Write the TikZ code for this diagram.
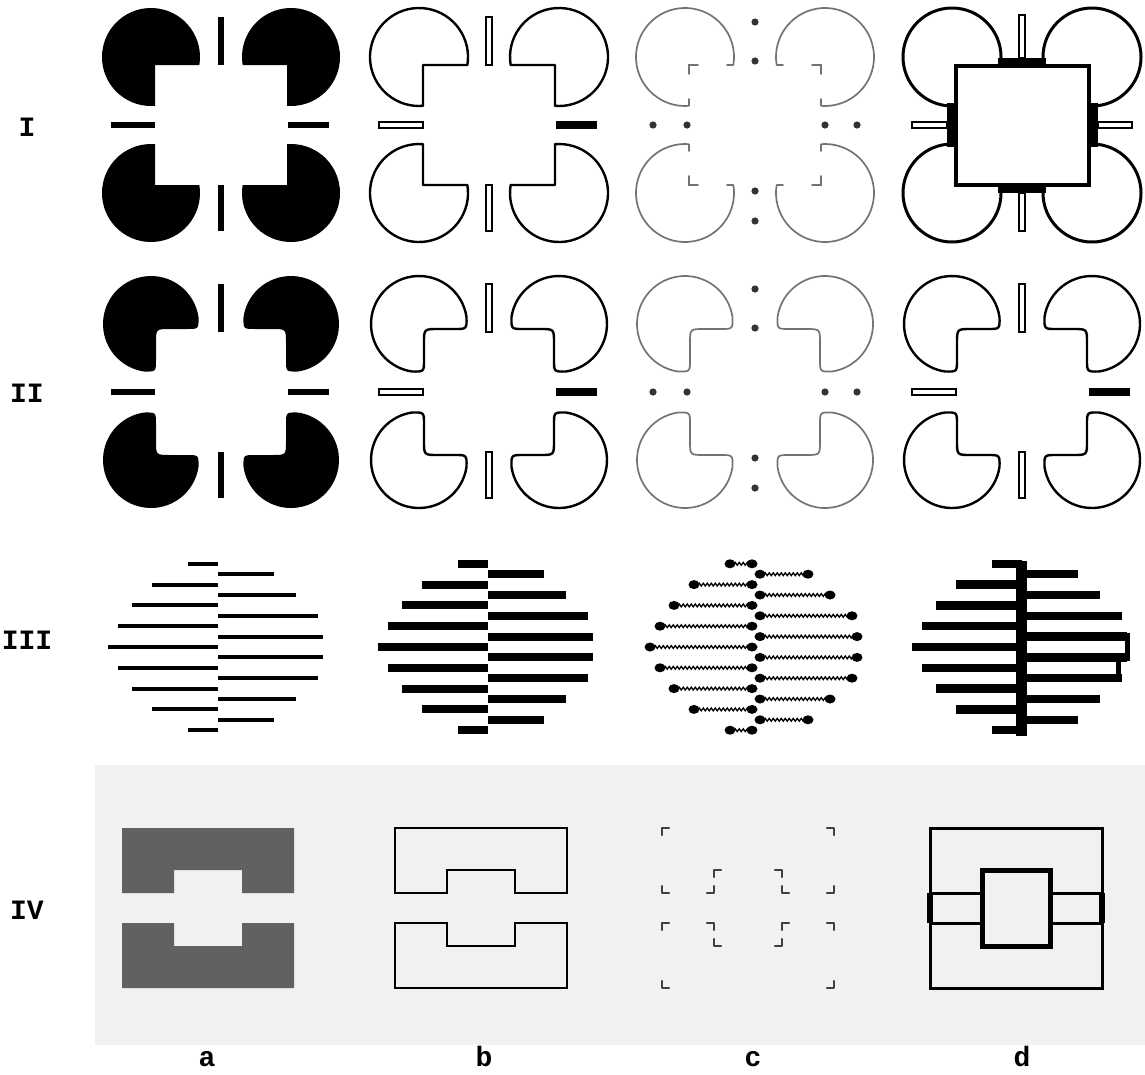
\documentclass[tikz,border=0pt]{standalone}
\usepackage{fontspec}
\newfontfamily\labfont{Liberation Mono}
\usetikzlibrary{decorations.pathmorphing}
% pacman (row I), local: circle centre (0,0), notch corner (4,8), missing quadrant towards +x,+y (y down)
\newcommand\pacIpath{(4,8) -- (48.34,8) arc[start angle=9.40,end angle=-274.68,radius=49] -- cycle}
\newcommand\pacIarc{(48.34,8) arc[start angle=9.40,end angle=-274.68,radius=49] (4,17) -- (4,8) -- (13,8) (48.34,8) -- (42,8) (4,48.84) -- (4,42)}
% bean (row II)
\newcommand\beanpath{(19,5) -- (35.74,5) .. controls (47.74,5) .. (47.50,-6.93) arc[start angle=-8.3,end angle=-261.68,radius=48] .. controls (5,47.74) .. (5,35.74) -- (5,19) .. controls (5,5) .. (19,5) -- cycle}
% row IV shapes
\newcommand\topshape{(-86,-80) -- (86,-80) -- (86,-15) -- (34,-15) -- (34,-38) -- (-34,-38) -- (-34,-15) -- (-86,-15) -- cycle}
\newcommand\botshape{(-86,80) -- (86,80) -- (86,15) -- (34,15) -- (34,38) -- (-34,38) -- (-34,15) -- (-86,15) -- cycle}
\newcommand\fourshapes[4]{%
  \foreach \sx/\sy in {1/1,-1/1,1/-1,-1/-1}{%
    \begin{scope}[shift={({#1-(\sx)*70},{#2-(\sy)*68})},xscale=\sx,yscale=\sy]
      \path[#4] #3;
    \end{scope}}}
% bars
\newcommand\barsfilled[2]{%
  \fill (#1-3,#2-108) rectangle (#1+3,#2-60);
  \fill (#1-3,#2+60) rectangle (#1+3,#2+106);
  \fill (#1-110,#2-3) rectangle (#1-66,#2+3);
  \fill (#1+67,#2-3) rectangle (#1+108,#2+3);}
\newcommand\barshollow[2]{%
  \draw[hollowbar] (#1-3,#2-108) rectangle (#1+3,#2-60);
  \draw[hollowbar] (#1-3,#2+60) rectangle (#1+3,#2+106);
  \draw[hollowbar] (#1-110,#2-3) rectangle (#1-66,#2+3);
  \fill (#1+67,#2-4) rectangle (#1+108,#2+4);}
\newcommand\barsdots[2]{%
  \foreach \p in {(#1,#2-103),(#1,#2-64),(#1,#2+66),(#1,#2+96),(#1-102,#2),(#1-68,#2),(#1+70,#2),(#1+102,#2)}{\fill[black!80] \p circle (3.6);}}
% row III
\newcommand\leftlist{-83.2/30,-62.4/66,-41.6/86,-20.8/100,0/110,20.8/100,41.6/86,62.4/66,83.2/30}
\newcommand\rightlist{-72.8/56,-52/78,-31.2/100,-10.4/105,10.4/105,31.2/100,52/78,72.8/56}
\newcommand\linesIII[3]{%
  \foreach \dy/\w in \leftlist {\draw[#3] ({#1-\w},{#2+(\dy)}) -- ({#1},{#2+(\dy)});}
  \foreach \dy/\w in \rightlist {\draw[#3] ({#1},{#2+(\dy)}) -- ({#1+\w},{#2+(\dy)});}}
\newcommand\cmark[4]{\draw[cornermark] ({#1+(#3)*7},#2) -- (#1,#2) -- (#1,{#2+(#4)*7});}
\begin{document}
\begin{tikzpicture}[x=1pt,y=-1pt,
  outl/.style={draw=black,line width=2.4,line join=round},
  noisy/.style={draw=black!55,line width=1.7,line cap=round},
  hollowbar/.style={draw=black,line width=1.6},
  cornermark/.style={draw=black!75,line width=2.2,line cap=round,line join=round},
  lab/.style={font=\labfont\bfseries\fontsize{28}{28}\selectfont,inner sep=0pt}]
\useasboundingbox (0,0) rectangle (1145,1074);
\fill[gray!11] (95,765) rectangle (1145,1045);

% ---------- row I ----------
\fourshapes{221}{125}{\pacIpath}{fill=black}
\barsfilled{221}{125}
\fourshapes{489}{125}{\pacIpath}{outl}
\barshollow{489}{125}
\fourshapes{755}{125}{\pacIarc}{noisy}
\barsdots{755}{125}
% column d
\foreach \sx/\sy in {1/1,-1/1,1/-1,-1/-1}{\draw[line width=3] ({1022-(\sx)*70},{125-(\sy)*68}) circle (49);}
\fill (1022-24,125-67) rectangle (1022+24,125-59);
\fill (1022-24,125+60) rectangle (1022+24,125+68);
\fill (1022-75,125-22) rectangle (1022-66,125+22);
\fill (1022+67,125-22) rectangle (1022+76,125+22);
\draw[line width=3.5,fill=white] (1022-66,125-59) rectangle (1022+67,125+60);
\draw[hollowbar] (1022-3,125-110) rectangle (1022+3,125-67);
\draw[hollowbar] (1022-3,125+68) rectangle (1022+3,125+106);
\draw[hollowbar] (1022-110,125-3) rectangle (1022-75,125+3);
\draw[hollowbar] (1022+76,125-3) rectangle (1022+110,125+3);

% ---------- row II ----------
\fourshapes{221}{392}{\beanpath}{fill=black}
\barsfilled{221}{392}
\fourshapes{489}{392}{\beanpath}{outl}
\barshollow{489}{392}
\fourshapes{755}{392}{\beanpath}{noisy}
\barsdots{755}{392}
\fourshapes{1022}{392}{\beanpath}{outl}
\barshollow{1022}{392}

% ---------- row III ----------
\linesIII{218}{647}{line width=4}
\linesIII{488}{647}{line width=8}
% column c
\foreach \dy/\w in \leftlist {
  \draw[line width=1.3,decorate,decoration={snake,amplitude=1.4,segment length=4}] ({756-\w+4},{647+(\dy)}) -- ({756-4},{647+(\dy)});
  \fill ({756-\w+4},{647+(\dy)}) ellipse [x radius=5.5,y radius=4.5];
  \fill ({756-4},{647+(\dy)}) ellipse [x radius=5.5,y radius=4.5];}
\foreach \dy/\w in \rightlist {
  \draw[line width=1.3,decorate,decoration={snake,amplitude=1.4,segment length=4}] ({756+4},{647+(\dy)}) -- ({756+\w-4},{647+(\dy)});
  \fill ({756+4},{647+(\dy)}) ellipse [x radius=5.5,y radius=4.5];
  \fill ({756+\w-4},{647+(\dy)}) ellipse [x radius=5.5,y radius=4.5];}
% column d
\linesIII{1022}{647}{line width=8.5}
\fill (1022-6,561) rectangle (1022+5,736);
\draw[line width=5] (1022+105,647-14) -- (1022+105,647+14);
\draw[line width=5] (1022+96,647+8) -- (1022+96,647+35);

% ---------- row IV ----------
\begin{scope}[shift={(208,908)}]
  \fill[black!62] \topshape; \fill[black!62] \botshape;
\end{scope}
\begin{scope}[shift={(481,908)}]
  \draw[line width=2.2] \topshape; \draw[line width=2.2] \botshape;
\end{scope}
\begin{scope}[shift={(748,908)}]
  \foreach \yy in {-1,1}{
    \cmark{-86}{\yy*80}{1}{-\yy}
    \cmark{86}{\yy*80}{-1}{-\yy}
    \cmark{86}{\yy*15}{-1}{\yy}
    \cmark{-86}{\yy*15}{1}{\yy}
    \cmark{34}{\yy*15}{1}{\yy}
    \cmark{-34}{\yy*15}{-1}{\yy}
    \cmark{34}{\yy*38}{-1}{-\yy}
    \cmark{-34}{\yy*38}{1}{-\yy}}
\end{scope}
\begin{scope}[shift={(1016,908)}]
  \draw[line width=3] \topshape; \draw[line width=3] \botshape;
  \draw[line width=5] (-34,-38) rectangle (34,38);
  \draw[line width=6] (-86,-15) -- (-86,15);
  \draw[line width=6] (86,-15) -- (86,15);
\end{scope}

% ---------- labels ----------
\node[lab] (rI) at (27,127) {I};
\node[lab] (rII) at (27,393) {II};
\node[lab] (rIII) at (27,640) {III};
\node[lab] (rIV) at (27,910) {IV};
\node[lab,anchor=base] (ca) at (207,1066) {a};
\node[lab,anchor=base] (cb) at (484,1066) {b};
\node[lab,anchor=base] (cc) at (753,1066) {c};
\node[lab,anchor=base] (cd) at (1022,1066) {d};
\end{tikzpicture}
\end{document}
